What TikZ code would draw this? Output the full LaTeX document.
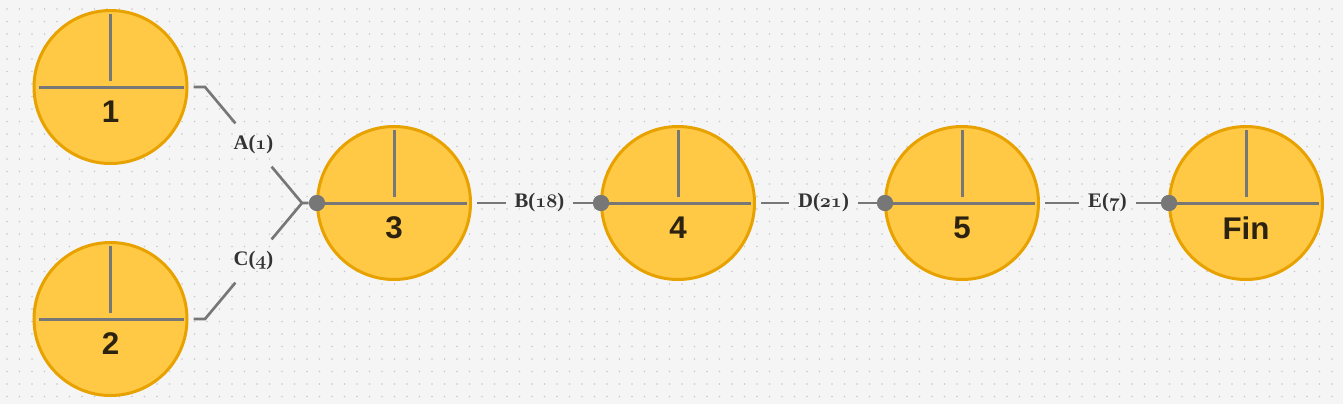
\documentclass[tikz,border=0pt]{standalone}
\usepackage{fontspec}
\newfontfamily\numfont{Liberation Sans}
\newfontfamily\lblfont{Liberation Serif}
\definecolor{bgc}{HTML}{F5F5F5}
\definecolor{dotc}{HTML}{C8C8C8}
\definecolor{nfill}{HTML}{FFC845}
\definecolor{nedge}{HTML}{E8A200}
\definecolor{lgray}{HTML}{777777}
\definecolor{ntext}{HTML}{2B2210}
\definecolor{ltext}{HTML}{333333}
\newcommand\osfd[1]{{\usefont{OML}{cmm}{b}{it}#1}}
\tikzset{
  pnode/.style={circle,draw=nedge,fill=nfill,line width=2.25pt,minimum size=114.75pt,inner sep=0pt},
  inl/.style={draw=lgray,line width=2.25pt},
  conn/.style={draw=lgray,line width=2pt},
  numtxt/.style={text=ntext,font=\numfont\bfseries\fontsize{23.5pt}{23.5pt}\selectfont,inner sep=0pt},
  lbl/.style={text=ltext,font=\lblfont\bfseries\fontsize{15.5pt}{15.5pt}\selectfont,inner xsep=6.5pt,inner ysep=9pt},
  dotn/.style={circle,fill=lgray,minimum size=12pt,inner sep=0pt}
}
\begin{document}
\begin{tikzpicture}[x=0.75pt,y=-0.75pt]
\fill[bgc] (0,0) rectangle (1343,404);
\useasboundingbox (0,0) rectangle (1343,404);
\foreach \i in {0,...,106} {\foreach \j in {0,...,31} {\fill[dotc] (7+\i*12.5,9+\j*12.5) circle (0.9);}}
% nodes
\node[pnode] (n1) at (110.5,87) {};
\node[pnode] (n2) at (110.5,319) {};
\node[pnode] (n3) at (394,203) {};
\node[pnode] (n4) at (678,203) {};
\node[pnode] (n5) at (962,203) {};
\node[pnode] (fin) at (1246,203) {};
% inner lines
\foreach \n in {n1,n2} {
  \draw[inl] ([xshift=-54pt]\n.center) -- ([xshift=54.75pt]\n.center);
}
\foreach \n in {n3,n4,n5,fin} {
  \draw[inl] ([xshift=-57pt]\n.center) -- ([xshift=54.75pt]\n.center);
}
\foreach \n in {n1,n2,n3,n4,n5,fin} {
  \draw[inl] ([yshift=54.75pt]\n.center) -- ([yshift=4.5pt]\n.center);
}
% numbers
\node[numtxt] (t1) at ([yshift=-18.75pt]n1.center) {1};
\node[numtxt] (t2) at ([yshift=-18.75pt]n2.center) {2};
\node[numtxt] (t3) at ([yshift=-18.75pt]n3.center) {3};
\node[numtxt] (t4) at ([yshift=-18.75pt]n4.center) {4};
\node[numtxt] (t5) at ([yshift=-18.75pt]n5.center) {5};
\node[numtxt] (tf) at ([yshift=-18.75pt]fin.center) {Fin};
% dots
\node[dotn] (d3) at (317,203) {};
\node[dotn] (d4) at (601,203) {};
\node[dotn] (d5) at (885,203) {};
\node[dotn] (d6) at (1169,203) {};
% labels
\node[lbl] (lA) at (253.5,145) {A(\osfd{1})};
\node[lbl] (lC) at (253.5,261) {C(\osfd{4})};
\node[lbl] (lB) at (539.5,203) {B(\osfd{18})};
\node[lbl] (lD) at (823.5,203) {D(\osfd{21})};
\node[lbl] (lE) at (1107.5,203) {E(\osfd{7})};
% connectors
\coordinate (b1) at (205,87);
\coordinate (b2) at (205,319);
\coordinate (j) at (302,203);
\draw[conn] ([xshift=3.75pt]n1.east) -- (b1) -- (lA);
\draw[conn] (lA) -- (j) -- (d3);
\draw[conn] ([xshift=3.75pt]n2.east) -- (b2) -- (lC);
\draw[conn] (lC) -- (j);
\draw[conn] ([xshift=3.75pt]n3.east) -- (lB);
\draw[conn] (lB) -- (d4);
\draw[conn] ([xshift=3.75pt]n4.east) -- (lD);
\draw[conn] (lD) -- (d5);
\draw[conn] ([xshift=3.75pt]n5.east) -- (lE);
\draw[conn] (lE) -- (d6);
% redraw dots on top
\node[dotn] at (d3) {};
\node[dotn] at (d4) {};
\node[dotn] at (d5) {};
\node[dotn] at (d6) {};
\end{tikzpicture}
\end{document}
